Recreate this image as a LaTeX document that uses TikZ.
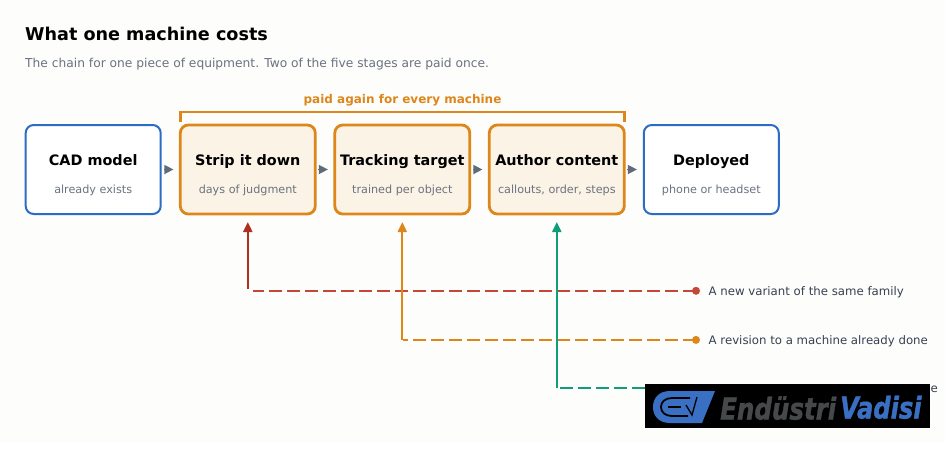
\documentclass[tikz,border=0pt]{standalone}
\usepackage{fontspec}
\setmainfont{DejaVu Sans}
\newfontfamily\logofont[ItalicFont={DejaVu Sans Bold Oblique},ItalicFeatures={FakeBold=1.4}]{DejaVu Sans}
\usetikzlibrary{arrows.meta}
\definecolor{bgc}{HTML}{FDFDFC}
\definecolor{blu}{HTML}{2B6CC4}
\definecolor{org}{HTML}{DD861A}
\definecolor{cream}{HTML}{FBF3E5}
\definecolor{redc}{HTML}{B0301F}
\definecolor{redd}{HTML}{C4483A}
\definecolor{grn}{HTML}{0F9D7A}
\definecolor{gry}{HTML}{5F6B78}
\definecolor{subc}{HTML}{6B7280}
\definecolor{lblc}{HTML}{374151}
\definecolor{logob}{HTML}{3A70C4}
\definecolor{logog}{HTML}{46494B}
\tikzset{
 x=1pt,y=-1pt,
 box/.style={rounded corners=8pt,minimum width=135pt,minimum height=89pt,anchor=north west,inner sep=0pt,outer sep=0pt},
 plainbox/.style={box,draw=blu,line width=2pt,fill=white},
 paidbox/.style={box,draw=org,line width=2.8pt,fill=cream},
 ttl/.style={font=\fontsize{14.4pt}{16pt}\selectfont\bfseries,text=black,anchor=base,inner sep=0pt},
 sub/.style={font=\fontsize{11.2pt}{13pt}\selectfont,text=subc,anchor=base,inner sep=0pt},
 flow/.style={-{Triangle[length=9pt,width=9.5pt]},draw=gry,line width=0pt,shorten <=3.5pt,shorten >=7pt},
 leg/.style={font=\fontsize{11.75pt}{14pt}\selectfont,text=lblc,anchor=base west,inner sep=0pt},
 upa/.style={line width=2pt,-{Triangle[length=10pt,width=9pt]},shorten >=8pt},
 dsh/.style={line width=2.2pt,dash pattern=on 13pt off 5pt},
 logotext/.style={anchor=base west,inner sep=0pt,font=\logofont\fontsize{30pt}{32pt}\selectfont\itshape},
}
\begin{document}
\begin{tikzpicture}
\useasboundingbox (0,0) rectangle (950,448);
\fill[white] (0,0) rectangle (950,448);
\fill[bgc] (0,0) rectangle (945,443);
\node[anchor=base west,inner sep=0pt,font=\fontsize{17.6pt}{20pt}\selectfont\bfseries] (title) at (25,40) {What one machine costs};
\node[anchor=base west,inner sep=0pt,font=\fontsize{12.25pt}{14pt}\selectfont,text=subc] (subtitle) at (25,67.7) {The chain for one piece of equipment. Two of the five stages are paid once.};
\node[anchor=base,inner sep=0pt,font=\fontsize{12pt}{14pt}\selectfont\bfseries,text=org] (paidlbl) at (402.5,103.5) {paid again for every machine};
\node[plainbox] (a) at (25.7,125) {};
\node[paidbox] (b) at (180.3,125) {};
\node[paidbox] (c) at (334.8,125) {};
\node[paidbox] (d) at (489.3,125) {};
\node[plainbox] (e) at (643.8,125) {};
\node[ttl] (at) at (93.2,165) {CAD model};
\node[ttl] (bt) at (247.8,165) {Strip it down};
\node[ttl] (ct) at (402.3,165) {Tracking target};
\node[ttl] (dt) at (556.8,165) {Author content};
\node[ttl] (et) at (711.3,165) {Deployed};
\node[sub] (as) at (93.2,193) {already exists};
\node[sub] (bs) at (247.8,193) {days of judgment};
\node[sub] (cs) at (402.3,193) {trained per object};
\node[sub] (ds) at (556.8,193) {callouts, order, steps};
\node[sub] (es) at (711.3,193) {phone or headset};
\foreach \p/\q in {a/b,b/c,c/d,d/e} \draw[flow] (\p.east) -- (\q.west);
\draw[org,line width=2.4pt] (b.north west) ++(0,-3) coordinate (bl) -- ++(0,-10) coordinate (bl2) -- (d.north east |- bl2) -- (d.north east |- bl);
\coordinate (r0) at (696,290.8);
\coordinate (o0) at (696,339.9);
\coordinate (g0) at (645,388);
\coordinate (rc) at (247.8,290.8);
\coordinate (oc) at (402.3,339.9);
\coordinate (gc) at (556.8,388);
\draw[redd,dsh] (r0) -- ([xshift=5pt]rc);
\draw[org,dsh] (o0) -- ([xshift=1pt]oc);
\draw[grn,dsh] (g0) -- ([xshift=3pt]gc);
\draw[redc,upa] ([yshift=2pt]rc) -- (rc |- b.south);
\draw[org,upa] (oc) -- (oc |- c.south);
\draw[grn,upa] (gc) -- (gc |- d.south);
\fill[redd] (r0) circle (4pt);
\fill[org] (o0) circle (4pt);
\node[leg] (l1) at (708.5,295) {A new variant of the same family};
\node[leg] (l2) at (708.5,344) {A revision to a machine already done};
\node[leg] (l3) at (930.5,392.7) {e};
% logo
\fill[black] (645,384) rectangle (930,428);
\fill[logob] (670,391) -- (715,391) -- (702,423) -- (670,423) .. controls (659,423) and (653,416) .. (653,407) .. controls (653,398) and (659,391) .. (670,391) -- cycle;
\draw[black,line width=1.8pt] (690,398) -- (672,398) .. controls (665,398) and (661,402) .. (661,407) .. controls (661,412) and (665,416) .. (672,416) -- (688,416);
\draw[black,line width=1.4pt] (668,407) -- (681,407);
\draw[black,line width=1.3pt] (686,405) -- (692,415) -- (697,397);
\node[logotext,text=logog] (logo1) at (720,419.5) {\scalebox{.817}[1]{Endüstri}};
\node[logotext,text=logob] (logo2) at (840,418.5) {\scalebox{.805}[1]{Vadisi}};
\end{tikzpicture}
\end{document}
